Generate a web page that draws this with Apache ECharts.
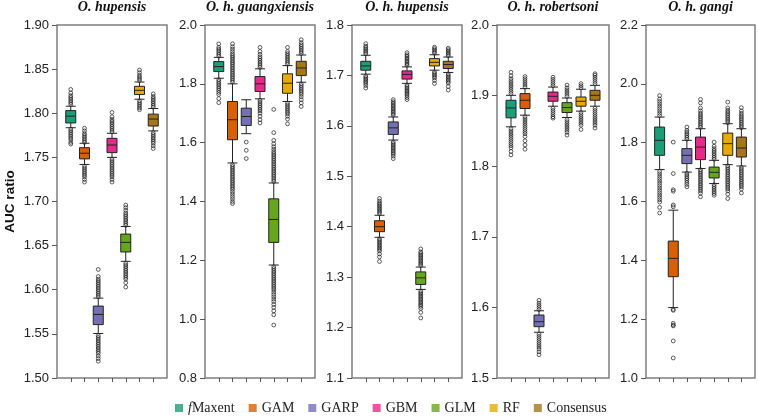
<!DOCTYPE html>
<html>
<head>
<meta charset="utf-8">
<script src="https://cdn.jsdelivr.net/npm/echarts@6/dist/echarts.min.js"></script>
<style>html,body{margin:0;padding:0;background:#fff}#c{width:758px;height:420px}</style>
</head>
<body>
<div id="c"></div>
<script>
const models = ['fMaxent','GAM','GARP','GBM','GLM','RF','Consensus'];
const modelColors = ['#1b9e77','#d95f02','#7570b3','#e7298a','#66a61e','#e6ab02','#a6761d'];
const panelTitles = ['O. hupensis','O. h. guangxiensis','O. h. hupensis','O. h. robertsoni','O. h. gangi'];
const yMin = [1.5, 0.8, 1.1, 1.5, 1.0];
const yMax = [1.9, 2.0, 1.8, 2.0, 2.2];
const yStep = [0.05, 0.2, 0.1, 0.1, 0.2];
const yDecimals = [2, 1, 1, 1, 1];

// [lower whisker, Q1, median, Q3, upper whisker] per model
const boxHupensis = [
  [1.7836,1.789,1.7967,1.803,1.808],
  [1.742,1.7483,1.7547,1.761,1.766],
  [1.5504,1.5605,1.572,1.5815,1.5905],
  [1.750,1.7554,1.764,1.7716,1.7773],
  [1.6322,1.6428,1.6537,1.6631,1.6717],
  [1.8159,1.8212,1.826,1.8305,1.8354],
  [1.780,1.7855,1.7934,1.799,1.8054]
];
const boxGuangxiensis = [
  [1.819,1.8417,1.8586,1.8756,1.890],
  [1.531,1.61,1.678,1.74,1.80],
  [1.6305,1.6586,1.689,1.7173,1.7458],
  [1.749,1.774,1.80,1.8247,1.851],
  [1.184,1.261,1.339,1.409,1.463],
  [1.74,1.768,1.802,1.834,1.862],
  [1.8054,1.828,1.854,1.8766,1.898]
];
const boxHHupensis = [
  [1.7025,1.7104,1.7188,1.728,1.74],
  [1.379,1.3902,1.40,1.4118,1.4227],
  [1.5718,1.583,1.596,1.6078,1.6176],
  [1.6843,1.6927,1.702,1.709,1.717],
  [1.2757,1.2855,1.2986,1.3104,1.320],
  [1.7104,1.7188,1.726,1.7333,1.741],
  [1.7059,1.7137,1.7216,1.728,1.7365]
];
const boxRobertsoni = [
  [1.8558,1.8685,1.8825,1.8934,1.9004],
  [1.8723,1.8817,1.8934,1.9028,1.9099],
  [1.5648,1.5727,1.5797,1.5892,1.5952],
  [1.885,1.892,1.899,1.905,1.9121],
  [1.869,1.876,1.883,1.89,1.8966],
  [1.878,1.885,1.892,1.898,1.909],
  [1.885,1.8934,1.9004,1.9075,1.9145]
];
const boxGangi = [
  [1.7085,1.757,1.808,1.853,1.887],
  [1.2393,1.3444,1.4068,1.4654,1.5705],
  [1.70,1.7288,1.757,1.7797,1.808],
  [1.712,1.7424,1.785,1.819,1.8475],
  [1.661,1.68,1.6993,1.717,1.74],
  [1.7254,1.757,1.7966,1.8325,1.8644],
  [1.7207,1.7512,1.7817,1.819,1.8475]
];

// outliers per model
const outHupensis = [
  [1.810,1.812,1.814,1.816,1.818,1.820,1.823,1.827,1.782,1.780,1.778,1.776,1.774,1.772,1.770,1.767,1.765],
  [1.767,1.769,1.771,1.773,1.775,1.777,1.780,1.783,1.740,1.738,1.736,1.734,1.732,1.730,1.728,1.725,1.722],
  [1.592,1.594,1.596,1.598,1.600,1.602,1.604,1.606,1.608,1.610,1.612,1.615,1.623,1.548,1.546,1.544,1.542,1.540,1.538,1.536,1.534,1.532,1.530,1.528,1.525,1.522,1.519],
  [1.779,1.781,1.783,1.785,1.787,1.789,1.791,1.793,1.796,1.801,1.748,1.746,1.744,1.742,1.740,1.738,1.736,1.734,1.732,1.730,1.728,1.725,1.722],
  [1.673,1.675,1.677,1.679,1.681,1.683,1.685,1.687,1.690,1.693,1.696,1.630,1.628,1.626,1.624,1.622,1.620,1.618,1.616,1.614,1.612,1.608,1.603],
  [1.837,1.839,1.841,1.843,1.846,1.849,1.814,1.812,1.810,1.808,1.806,1.804],
  [1.807,1.809,1.811,1.813,1.815,1.817,1.819,1.822,1.778,1.776,1.774,1.772,1.770,1.768,1.766,1.763,1.760]
];
const outGuangxiensis = [
  [1.894,1.900,1.906,1.912,1.918,1.924,1.936,1.814,1.808,1.802,1.796,1.790,1.784,1.778,1.771,1.764,1.750,1.736],
  [1.806,1.812,1.818,1.824,1.830,1.836,1.842,1.848,1.854,1.860,1.866,1.872,1.878,1.884,1.890,1.896,1.902,1.910,1.918,1.926,1.936,
   1.525,1.519,1.513,1.507,1.501,1.495,1.489,1.483,1.477,1.471,1.465,1.459,1.453,1.447,1.441,1.433,1.425,1.417,1.409,1.400,1.393],
  [1.602,1.574,1.546],
  [1.856,1.862,1.868,1.874,1.880,1.886,1.892,1.900,1.910,1.924,1.744,1.738,1.732,1.726,1.720,1.714,1.708,1.700,1.690,1.678,1.667],
  [1.468,1.474,1.480,1.486,1.492,1.498,1.504,1.510,1.516,1.522,1.528,1.534,1.540,1.546,1.552,1.558,1.564,1.570,1.578,1.586,1.596,1.608,1.634,1.713,
   1.178,1.172,1.166,1.160,1.154,1.148,1.142,1.136,1.130,1.124,1.118,1.112,1.106,1.100,1.092,1.084,1.076,1.068,1.060,1.050,1.040,1.028,1.015,0.980],
  [1.867,1.873,1.879,1.885,1.891,1.897,1.903,1.910,1.924,1.734,1.728,1.722,1.716,1.710,1.704,1.698,1.690,1.680,1.664],
  [1.903,1.909,1.915,1.921,1.927,1.933,1.940,1.950,1.800,1.794,1.788,1.782,1.776,1.770,1.764,1.756,1.746,1.735,1.723]
];
const outHHupensis = [
  [1.743,1.746,1.749,1.752,1.755,1.758,1.763,1.699,1.696,1.693,1.690,1.687,1.684,1.680,1.675],
  [1.426,1.429,1.432,1.435,1.438,1.441,1.444,1.447,1.451,1.456,1.376,1.373,1.370,1.367,1.364,1.361,1.358,1.355,1.352,1.346,1.340,1.331],
  [1.621,1.624,1.627,1.630,1.633,1.636,1.639,1.642,1.645,1.648,1.652,1.568,1.565,1.562,1.559,1.556,1.553,1.550,1.547,1.544,1.540,1.535],
  [1.720,1.723,1.726,1.729,1.732,1.735,1.738,1.741,1.745,1.681,1.678,1.675,1.672,1.669,1.666,1.663,1.660,1.656,1.652],
  [1.323,1.326,1.329,1.332,1.335,1.338,1.341,1.344,1.347,1.350,1.356,1.272,1.269,1.266,1.263,1.260,1.257,1.254,1.251,1.248,1.245,1.242,1.238,1.230,1.219],
  [1.744,1.747,1.750,1.753,1.756,1.707,1.704,1.701,1.698,1.695,1.690,1.684],
  [1.739,1.742,1.745,1.748,1.751,1.754,1.703,1.700,1.697,1.694,1.691,1.688,1.685,1.678,1.671]
];
const outRobertsoni = [
  [1.903,1.906,1.909,1.912,1.915,1.918,1.921,1.924,1.928,1.933,1.853,1.850,1.847,1.844,1.841,1.838,1.835,1.832,1.829,1.826,1.821,1.816],
  [1.912,1.915,1.918,1.921,1.924,1.927,1.870,1.867,1.864,1.861,1.858,1.855,1.852,1.849,1.846,1.842,1.836,1.830,1.824],
  [1.597,1.600,1.603,1.606,1.610,1.562,1.559,1.556,1.553,1.550,1.547,1.544,1.541,1.537,1.533],
  [1.914,1.917,1.920,1.923,1.926,1.882,1.879,1.876,1.873,1.870,1.868],
  [1.899,1.902,1.905,1.908,1.911,1.915,1.866,1.863,1.860,1.857,1.854,1.851,1.848,1.844],
  [1.911,1.914,1.917,1.876,1.873,1.870,1.867,1.864,1.861,1.858,1.852],
  [1.917,1.920,1.923,1.926,1.929,1.931,1.882,1.879,1.876,1.873,1.870,1.867,1.864,1.861,1.858,1.854]
];
const outGangi = [
  [1.892,1.900,1.908,1.916,1.924,1.932,1.940,1.948,1.960,1.702,1.694,1.686,1.678,1.670,1.662,1.654,1.646,1.638,1.630,1.622,1.614,1.606,1.598,1.580,1.561],
  [1.582,1.588,1.635,1.640,1.695,1.802,1.233,1.230,1.186,1.180,1.177,1.126,1.068],
  [1.812,1.818,1.824,1.830,1.836,1.842,1.853,1.696,1.690,1.684,1.678,1.672,1.665,1.658,1.650],
  [1.852,1.858,1.864,1.870,1.876,1.882,1.888,1.894,1.900,1.908,1.918,1.935,1.947,1.708,1.702,1.696,1.690,1.684,1.678,1.672,1.666,1.660,1.654,1.648,1.642,1.636,1.628,1.616],
  [1.744,1.750,1.756,1.762,1.768,1.774,1.780,1.788,1.802,1.657,1.651,1.645,1.639,1.633,1.627,1.621],
  [1.868,1.874,1.880,1.886,1.892,1.898,1.904,1.910,1.918,1.938,1.721,1.715,1.709,1.703,1.697,1.691,1.685,1.679,1.673,1.667,1.661,1.655,1.649,1.643,1.636,1.625,1.610],
  [1.851,1.857,1.863,1.869,1.875,1.881,1.887,1.893,1.900,1.908,1.919,1.716,1.710,1.704,1.698,1.692,1.686,1.680,1.674,1.668,1.662,1.656,1.650,1.642,1.629]
];

const panelBoxes = [boxHupensis, boxGuangxiensis, boxHHupensis, boxRobertsoni, boxGangi];
const panelOutliers = [outHupensis, outGuangxiensis, outHHupensis, outRobertsoni, outGangi];

// layout (pixels)
const gridLeft = [57, 205, 352, 497, 646];
const gridWidth = [110, 110, 110, 112, 109];
const gridTop = 25, gridHeight = 353;
const axisGray = '#7f7f7f';
const sans = 'Liberation Sans, Arial, sans-serif';
const serif = 'Liberation Serif, Times New Roman, serif';

const cats = [' '].concat(models).concat(['  ']);

const grids = [], xAxes = [], yAxes = [], titles = [], series = [];
for (let p = 0; p < 5; p++) {
  grids.push({left: gridLeft[p], top: gridTop, width: gridWidth[p], height: gridHeight,
    show: true, borderColor: axisGray, borderWidth: 1.5, backgroundColor: 'transparent', containLabel: false});
  xAxes.push({gridIndex: p, type: 'category', data: cats, boundaryGap: false,
    axisLine: {show: false}, axisLabel: {show: false}, splitLine: {show: false},
    axisTick: {show: true, length: 4, lineStyle: {color: '#555', width: 1},
      interval: function (idx) { return idx > 0 && idx < cats.length - 1; }}});
  const dec = yDecimals[p];
  const ya = {gridIndex: p, type: 'value', min: yMin[p], max: yMax[p], interval: yStep[p],
    axisLine: {show: false}, splitLine: {show: false},
    axisTick: {show: true, length: 5, lineStyle: {color: '#555', width: 1}},
    axisLabel: {margin: 8, color: '#222', fontSize: 13, fontFamily: sans,
      formatter: function (v) { return v.toFixed(dec); }}};
  if (p === 0) {
    ya.name = 'AUC ratio'; ya.nameLocation = 'middle'; ya.nameGap = 40;
    ya.nameTextStyle = {fontFamily: sans, fontWeight: 'bold', fontSize: 13.5, color: '#111'};
  }
  yAxes.push(ya);
  titles.push({text: panelTitles[p], left: gridLeft[p] + gridWidth[p] / 2, top: 0, textAlign: 'center', padding: 0,
    textStyle: {fontFamily: serif, fontStyle: 'italic', fontWeight: 'bold', fontSize: 14, color: '#111'}});

  const boxes = panelBoxes[p];
  series.push({type: 'boxplot', xAxisIndex: p, yAxisIndex: p, boxWidth: [10, 10],
    encode: {x: 0, y: [1, 2, 3, 4, 5]},
    data: boxes.map(function (b, i) {
      return {value: [i + 1].concat(b), itemStyle: {color: modelColors[i], borderColor: '#222', borderWidth: 1}};
    }), z: 3});
  const pts = [];
  panelOutliers[p].forEach(function (arr, i) { arr.forEach(function (v) { pts.push([i + 1, v]); }); });
  series.push({type: 'scatter', xAxisIndex: p, yAxisIndex: p, symbol: 'circle', symbolSize: 3.8,
    itemStyle: {color: 'rgba(255,255,255,0)', borderColor: '#1e1e1e', borderWidth: 0.9},
    data: pts, z: 2, silent: true});
}
models.forEach(function (m, i) {
  series.push({type: 'scatter', name: m, xAxisIndex: 0, yAxisIndex: 0, data: [], itemStyle: {color: modelColors[i]}});
});

const chart = echarts.init(document.getElementById('c'), null, {renderer: 'canvas'});
chart.setOption({
  animation: false,
  backgroundColor: '#fff',
  title: titles,
  grid: grids,
  xAxis: xAxes,
  yAxis: yAxes,
  legend: {data: models, left: 175, top: 401, padding: 0, icon: 'rect', itemWidth: 8, itemHeight: 8, itemGap: 14,
    selectedMode: false,
    textStyle: {fontFamily: serif, fontSize: 14, color: '#222',
      rich: {i: {fontFamily: serif, fontSize: 14, fontStyle: 'italic', color: '#222'}}},
    formatter: function (n) { return n === 'fMaxent' ? '{i|f}Maxent' : n; }},
  series: series
});
</script>
</body>
</html>
